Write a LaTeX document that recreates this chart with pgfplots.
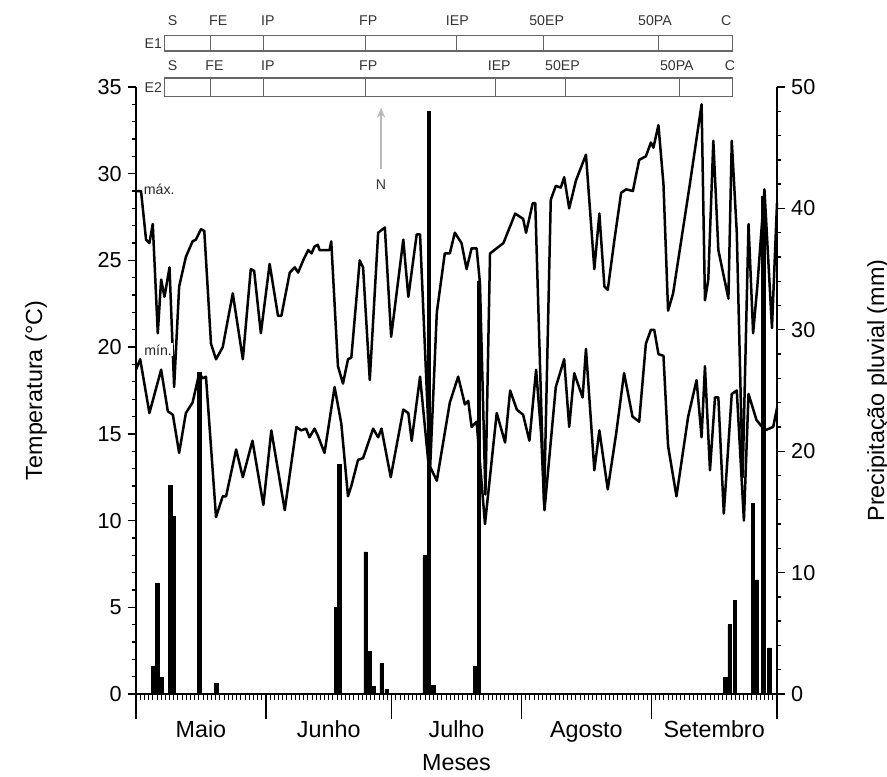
\documentclass[border=0pt]{standalone}
\usepackage{pgfplots}
\pgfplotsset{compat=1.18}
\usepackage{pgfplotstable}
\usepackage{fontspec}
\setmainfont{Liberation Sans}
\usetikzlibrary{arrows.meta}

\pgfplotstableread{
d T
0 29.0
1.2 29.0
2.4 26.2
3.2 26.0
4.0 27.1
5.2 20.8
6.0 23.9
6.8 22.9
8.0 24.6
9.1 17.7
10.3 23.5
11.9 25.2
13.5 26.1
14.3 26.2
15.5 26.8
16.3 26.7
17.9 20.2
19.1 19.3
20.7 20.0
23.1 23.1
25.5 19.3
27.4 24.5
28.2 24.4
29.8 20.8
31.9 24.8
33.9 21.8
34.7 21.8
36.7 24.3
37.9 24.6
38.7 24.3
39.9 25.0
41.1 25.6
41.9 25.4
42.6 25.8
43.4 25.9
43.8 25.6
46.2 25.6
46.6 26.1
48.2 18.9
49.4 17.9
50.6 19.3
51.4 19.4
53.4 25.0
54.2 24.6
55.8 18.1
57.8 26.6
59.4 26.9
60.9 20.6
63.8 26.2
65.0 22.9
67.0 26.5
67.8 26.5
70.2 13.0
71.8 22.0
73.7 25.4
74.9 25.4
76.1 26.6
77.7 26.0
78.9 24.5
80.1 25.7
81.3 25.7
82.1 23.7
83.4 11.5
84.5 25.4
86.1 25.7
87.7 26.0
90.5 27.7
92.4 27.4
93.1 26.6
94.7 28.3
95.3 28.3
97.4 11.0
99.0 28.5
100.2 29.3
101.4 29.2
102.2 29.8
103.4 28.0
105.0 29.6
107.4 31.1
109.4 24.5
110.6 27.7
111.8 23.5
112.6 23.3
114.2 26.2
115.8 28.9
117.0 29.1
118.6 29.0
120.1 30.8
121.7 31.0
122.9 31.8
123.5 31.5
124.7 32.8
125.9 29.4
127.0 22.1
128.2 23.1
132.2 29.4
135.0 34.0
135.8 22.7
136.6 23.9
137.8 31.9
139.0 25.6
141.4 22.8
142.2 31.9
143.4 26.6
144.8 12.5
146.2 27.1
147.3 20.8
148.3 23.5
150.0 29.1
151.8 21.1
153.0 28.3
}\tmax

\pgfplotstableread{
d T
0 18.7
1.0 19.3
3.2 16.2
6.0 18.7
7.6 16.3
8.8 16.1
10.3 13.9
11.9 16.2
13.5 16.8
15.1 18.5
15.9 18.2
16.7 18.3
19.1 10.2
20.7 11.4
21.5 11.4
23.9 14.1
25.5 12.5
27.8 14.6
30.4 10.9
32.3 15.2
33.9 12.9
35.5 10.6
38.3 15.4
39.4 15.2
40.6 15.3
41.4 14.8
42.6 15.3
43.4 14.9
45.0 13.9
47.4 17.7
49.0 15.6
50.6 11.4
51.4 12.0
53.0 13.5
54.2 13.6
56.6 15.3
57.8 14.8
58.6 15.3
60.8 12.5
63.8 16.4
65.0 16.2
65.8 14.6
67.8 18.3
69.8 13.3
71.8 12.3
74.9 16.8
76.9 18.3
78.5 16.7
79.3 16.9
80.1 15.4
81.3 15.7
83.3 9.8
86.1 16.2
88.1 14.5
89.3 17.5
90.9 16.4
92.4 16.1
93.9 14.6
95.5 18.7
96.7 15.0
97.5 10.6
100.2 17.7
102.2 19.3
103.4 15.4
104.6 18.5
106.6 17.1
107.4 19.9
109.4 12.9
110.6 15.2
112.6 11.8
114.6 15.0
116.5 18.5
118.5 16.0
120.1 15.7
121.7 20.2
122.9 21.0
123.7 21.0
124.7 19.6
125.9 19.5
127.0 14.3
129.0 11.4
131.8 16.0
133.8 18.1
135.0 14.8
135.8 18.9
137.0 12.9
138.2 17.1
139.0 17.1
140.3 10.4
142.2 17.3
143.4 17.5
145.1 10.0
146.2 17.3
148.1 15.8
150.1 15.2
152.1 15.4
153.0 16.5
}\tmin

\pgfplotstableread{
d P
4.1 2.3
5.1 9.1
6.1 1.4
8.2 17.2
9.1 14.6
15.1 26.5
19.2 0.9
47.8 7.1
48.5 18.9
54.8 11.7
55.8 3.5
56.8 0.6
58.6 2.5
59.8 0.4
68.9 11.4
69.9 48.0
71.0 0.7
80.9 2.3
81.9 34.0
140.7 1.4
141.7 5.7
143.0 7.7
147.2 15.7
148.2 9.4
149.7 41.0
151.2 3.8
}\precip

\begin{document}
\begin{tikzpicture}
\pgfplotsset{
  base/.style={scale only axis, width=384.6pt, height=364.2pt,
    xmin=0, xmax=153, clip=false, tick align=outside,
    axis line style={line width=1.1pt},
    tick style={line width=0.8pt, black},
    tick label style={font=\fontsize{13}{15}\selectfont},
    label style={font=\fontsize{14}{16}\selectfont},
    /pgf/number format/assume math mode=true},
}
% daily ticks and month boundaries
\begin{axis}[base, ymin=0, ymax=35, axis y line=none, axis x line*=bottom,
  xtick={0,31,61,92,123,153}, xticklabels={},
  major tick length=15pt,
  minor xtick={0,1,...,153}, minor tick length=3.5pt,
  minor tick style={line width=0.5pt}]
\end{axis}
% precipitation
\begin{axis}[base, ymin=0, ymax=50, axis x line=none, axis y line*=right,
  ytick={0,10,20,30,40,50}, minor y tick num=4,
  major tick length=5pt, minor tick length=2.5pt,
  ylabel={Precipitação pluvial (mm)},
  ylabel style={at={(axis description cs:1.1576,0.5)}, anchor=center}]
\addplot[ybar, bar width=0.8, fill=black, draw=black, line width=0.4pt] table[x=d, y=P] {\precip};
\end{axis}
% temperature
\begin{axis}[base, ymin=0, ymax=35, axis x line*=bottom, axis y line*=left,
  ytick={0,5,...,35}, minor y tick num=4,
  major tick length=5pt, minor tick length=2.5pt,
  xtick={15.5,46,76.5,107.5,138},
  xticklabels={Maio,Junho,Julho,Agosto,Setembro},
  xtick style={draw=none},
  xticklabel style={font=\fontsize{14}{16}\selectfont, anchor=base, yshift=-21pt},
  xlabel={Meses},
  xlabel style={at={(axis description cs:0.5,0)}, anchor=base, yshift=-46pt},
  ylabel={Temperatura (°C)},
  ylabel style={at={(axis description cs:-0.156,0.5)}, anchor=center}]
\addplot[black, line width=1.5pt, line join=round] table[x=d, y=T] {\tmax};
\addplot[black, line width=1.5pt, line join=round] table[x=d, y=T] {\tmin};
% labels of the curves
\node[anchor=west, inner sep=0.5pt, font=\fontsize{8.5}{10}\selectfont, text=black!85] at (axis cs:1.6,29.07) {máx.};
\node[anchor=west, inner sep=0.8pt, fill=white, font=\fontsize{8.5}{10}\selectfont, text=black!85] at (axis cs:1.6,19.84) {mín.};
% arrow N
\draw[-{Stealth[length=6pt,width=5pt]}, gray!55, line width=1.3pt] (axis cs:58.5,30.3) -- (axis cs:58.5,33.8);
\node[font=\fontsize{8.5}{10}\selectfont, text=black!80] at (axis cs:58.5,29.35) {N};
% stage boxes
\draw[fill=white, draw=black!60, line width=0.7pt] (axis cs:6.9,37.08) rectangle (axis cs:142.4,37.95);
\draw[draw=black!60, line width=0.7pt]
  (axis cs:17.7,37.08) -- (axis cs:17.7,37.95)
  (axis cs:30.5,37.08) -- (axis cs:30.5,37.95)
  (axis cs:54.8,37.08) -- (axis cs:54.8,37.95)
  (axis cs:76.4,37.08) -- (axis cs:76.4,37.95)
  (axis cs:97.3,37.08) -- (axis cs:97.3,37.95)
  (axis cs:124.7,37.08) -- (axis cs:124.7,37.95);
\draw[fill=white, draw=black!60, line width=0.7pt] (axis cs:6.9,34.43) rectangle (axis cs:142.4,35.52);
\draw[draw=black!60, line width=0.7pt]
  (axis cs:17.7,34.43) -- (axis cs:17.7,35.52)
  (axis cs:30.5,34.43) -- (axis cs:30.5,35.52)
  (axis cs:54.8,34.43) -- (axis cs:54.8,35.52)
  (axis cs:85.8,34.43) -- (axis cs:85.8,35.52)
  (axis cs:102.6,34.43) -- (axis cs:102.6,35.52)
  (axis cs:129.8,34.43) -- (axis cs:129.8,35.52);
\node[anchor=east, inner sep=0pt, font=\fontsize{8.5}{10}\selectfont, text=black!80] at (axis cs:6.3,37.52) {E1};
\node[anchor=east, inner sep=0pt, font=\fontsize{8.5}{10}\selectfont, text=black!80] at (axis cs:6.3,34.98) {E2};
\begin{scope}[every node/.style={anchor=base west, inner sep=0pt, font=\fontsize{8.5}{10}\selectfont, text=black!80}]
\node at (axis cs:7.5,38.52) {S};
\node at (axis cs:17.4,38.52) {FE};
\node at (axis cs:29.8,38.52) {IP};
\node at (axis cs:53.2,38.52) {FP};
\node at (axis cs:73.9,38.52) {IEP};
\node at (axis cs:93.8,38.52) {50EP};
\node at (axis cs:119.8,38.52) {50PA};
\node at (axis cs:139.6,38.52) {C};
\node at (axis cs:7.5,35.93) {S};
\node at (axis cs:16.5,35.93) {FE};
\node at (axis cs:29.8,35.93) {IP};
\node at (axis cs:53.2,35.93) {FP};
\node at (axis cs:83.9,35.93) {IEP};
\node at (axis cs:97.6,35.93) {50EP};
\node at (axis cs:125.0,35.93) {50PA};
\node at (axis cs:140.5,35.93) {C};
\end{scope}
\end{axis}
\pgfresetboundingbox
\path[use as bounding box] (-81.6pt,-49.2pt) rectangle (450.6pt,416.4pt);
\end{tikzpicture}
\end{document}
